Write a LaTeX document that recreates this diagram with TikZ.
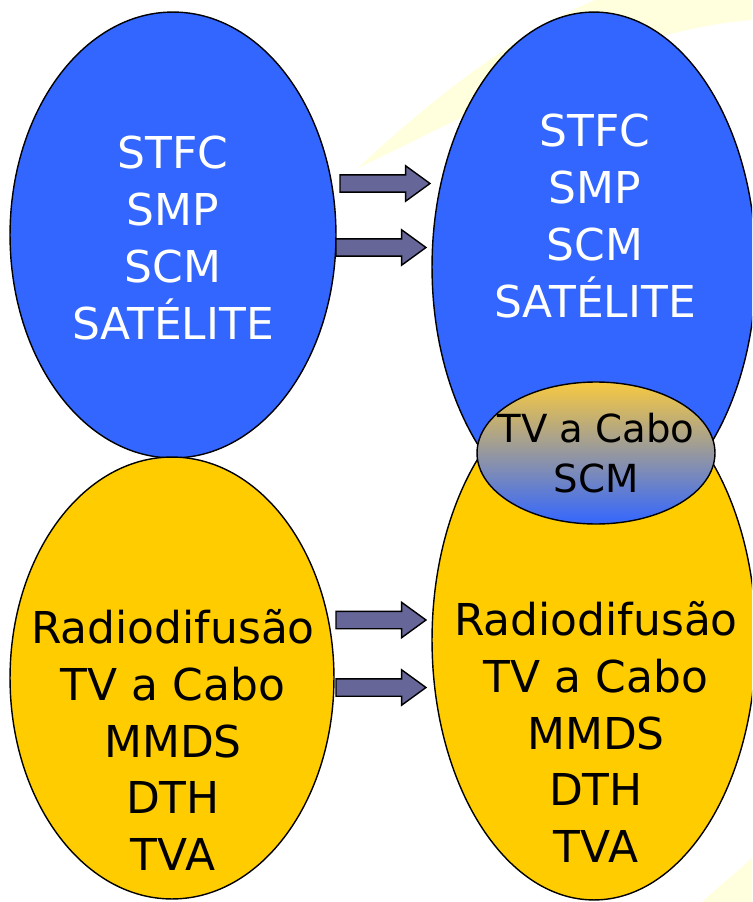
\documentclass[tikz,border=0pt]{standalone}
\usepackage{fontspec}
\setmainfont{DejaVu Sans}
\usetikzlibrary{shapes.geometric, shapes.arrows}

\definecolor{ovalblue}{HTML}{3366FF}
\definecolor{ovalyellow}{HTML}{FFCC00}
\definecolor{mixtop}{HTML}{F7C940}
\definecolor{mixmid}{HTML}{CFA0A0}
\definecolor{arrowfill}{HTML}{666699}
\definecolor{paleband}{HTML}{FFFFDD}

\tikzset{
    oval/.style={ellipse, draw=black, line width=0.8pt, inner sep=0pt},
    blueoval/.style={oval, fill=ovalblue},
    yellowoval/.style={oval, fill=ovalyellow},
    mixoval/.style={oval, top color=mixtop, middle color=mixmid, bottom color=ovalblue},
    blockarrow/.style={single arrow, draw=black, fill=arrowfill, line width=0.8pt,
        inner xsep=0pt, inner ysep=0.16cm, minimum height=1.8cm,
        single arrow head extend=0.18cm, single arrow tip angle=72},
    bigtxt/.style={align=center, font=\fontsize{25}{32.4}\selectfont},
    smalltxt/.style={align=center, font=\fontsize{22}{28.5}\selectfont}
}

\begin{document}
\begin{tikzpicture}[x=0.02cm, y=-0.02cm]

    \useasboundingbox (0,0) rectangle (752,902);

    \clip (0,0) rectangle (752,902);

    % pale band of the slide background
    \fill[paleband] (358,168) .. controls (430,100) and (520,30) .. (600,-2)
        -- (752,-2) -- (752,20) .. controls (620,30) and (480,110) .. (358,168);

    \fill[paleband] (700,904) .. controls (720,885) and (740,870) .. (754,856)
        -- (754,904) -- cycle;

    % left ovals
    \node[blueoval, minimum width=6.52cm, minimum height=8.92cm] (lblue) at (173,235) {};

    \node[yellowoval, minimum width=6.48cm, minimum height=8.84cm] (lyellow) at (172,678) {};

    % right ovals
    \node[yellowoval, minimum width=6.48cm, minimum height=10.4cm] (ryellow) at (594,640) {};

    \node[blueoval, minimum width=6.48cm, minimum height=10.2cm] (rblue) at (594,267) {};

    \node[mixoval, minimum width=4.76cm, minimum height=2.84cm] (rmix) at (596,453) {};

    % texts
    \node[bigtxt, text=white] (lbluetxt) at (173,238) {STFC\\SMP\\SCM\\SATÉLITE};

    \node[bigtxt, text=white] (rbluetxt) at (595,216) {STFC\\SMP\\SCM\\SATÉLITE};

    \node[bigtxt] (lyellowtxt) at (173,740) {Radiodifusão\\TV a Cabo\\MMDS\\DTH\\TVA};

    \node[bigtxt] (ryellowtxt) at (596,732) {Radiodifusão\\TV a Cabo\\MMDS\\DTH\\TVA};

    \node[smalltxt] (rmixtxt) at (596,453) {TV a Cabo\\SCM};

    % arrows
    \node[blockarrow] (arrA) at (379,183.5) {};

    \node[blockarrow] (arrB) at (375,247.5) {};

    \node[blockarrow] (arrC) at (375,620) {};

    \node[blockarrow] (arrD) at (375,687.5) {};

\end{tikzpicture}
\end{document}
